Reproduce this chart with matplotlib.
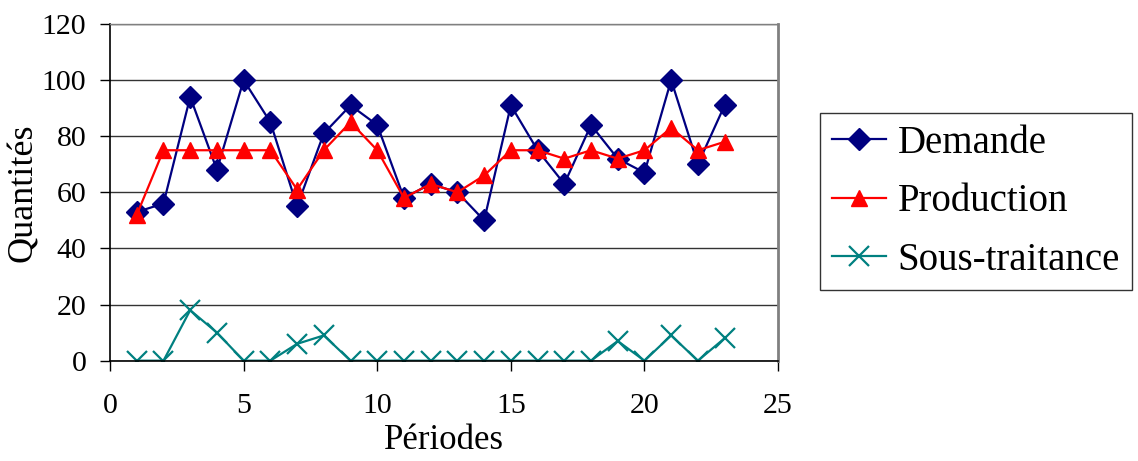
import matplotlib
matplotlib.use("Agg")
import matplotlib.pyplot as plt

# Data
periodes = list(range(1, 24))
demande = [53, 56, 94, 68, 100, 85, 55, 81, 91, 84, 58, 63, 60,
           50, 91, 75, 63, 84, 72, 67, 100, 70, 91]
production = [52, 75, 75, 75, 75, 75, 61, 75, 85, 75, 58, 63, 60,
              66, 75, 75, 72, 75, 72, 75, 83, 75, 78]
sous_traitance = [0, 0, 18, 10, 0, 0, 6, 9, 0, 0, 0, 0, 0,
                  0, 0, 0, 0, 0, 7, 0, 9, 0, 8]

x_ticks = [0, 5, 10, 15, 20, 25]
y_ticks = [0, 20, 40, 60, 80, 100, 120]

plt.rcParams['font.family'] = ['Liberation Serif', 'DejaVu Serif']

fig = plt.figure(figsize=(11.38, 4.61), dpi=100)
ax = fig.add_axes([0.0967, 0.2176, 0.587, 0.7304])

ax.plot(periodes, demande, color='#000080', lw=1.6, marker='D', ms=11,
        label='Demande')
ax.plot(periodes, production, color='#FF0000', lw=1.6, marker='^', ms=12,
        label='Production')
ax.plot(periodes, sous_traitance, color='#008080', lw=1.6, marker='x', ms=14,
        mew=1.6, label='Sous-traitance')

ax.set_xlim(0, 25)
ax.set_ylim(0, 120)
ax.set_xticks(x_ticks)
ax.set_yticks(y_ticks)
ax.yaxis.grid(True, color='#333333', lw=1)
ax.set_axisbelow(True)

for side in ['left', 'bottom']:
    ax.spines[side].set_color('black')
    ax.spines[side].set_linewidth(1.2)
ax.spines['right'].set_color('#808080')
ax.spines['right'].set_linewidth(2)
ax.spines['top'].set_color('#808080')
ax.spines['top'].set_linewidth(1)

ax.tick_params(axis='both', direction='out', length=7, width=1,
               labelsize=21.5, colors='black')
ax.tick_params(axis='x', pad=16)
ax.tick_params(axis='y', pad=10)

ax.set_xlabel('Périodes', fontsize=25, labelpad=4)
ax.set_ylabel('Quantités', fontsize=26, labelpad=1)

leg = ax.legend(loc='center left', bbox_to_anchor=(0.7206, 0.562),
                bbox_transform=fig.transFigure, fontsize=28, frameon=True,
                fancybox=False, edgecolor='black', handlelength=1.4,
                handletextpad=0.3, labelspacing=0.55, borderpad=0.3,
                borderaxespad=0)
leg.get_frame().set_linewidth(1)

fig.savefig('out.png', dpi=100)
